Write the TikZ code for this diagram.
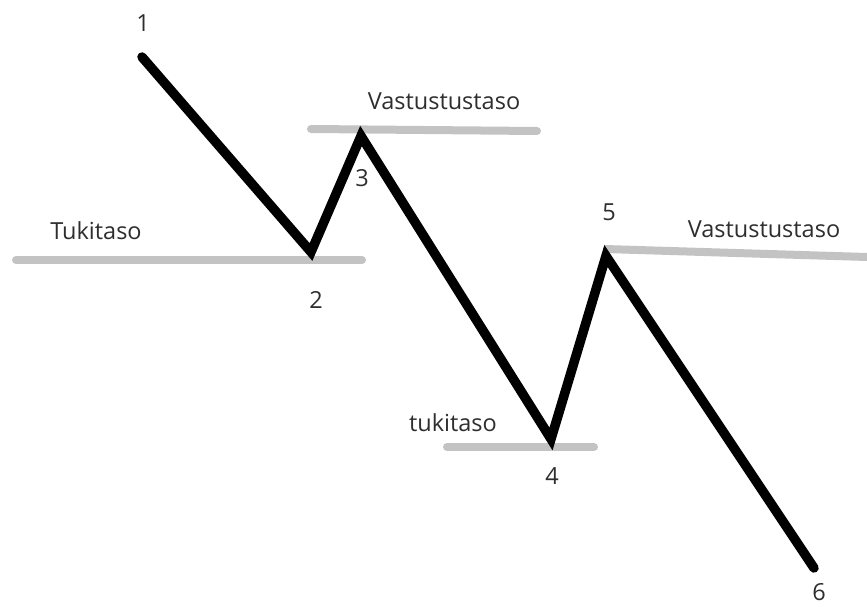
\documentclass[tikz,border=0pt]{standalone}
\usepackage{fontspec}
\setmainfont{Open Sans}
\begin{document}
\begin{tikzpicture}[x=1pt,y=-1pt,
  level/.style={line width=8pt,draw=levelgray,line cap=round},
  price/.style={line width=9.5pt,draw=black,line cap=round,line join=miter},
  lbl/.style={text=txtgray,font=\fontsize{23.5}{27}\selectfont,inner sep=0pt,anchor=center}]
\definecolor{levelgray}{HTML}{C3C3C3}
\definecolor{txtgray}{HTML}{2E2E2E}
\useasboundingbox (0,0) rectangle (867,607);
% support / resistance levels
\coordinate (l1a) at (16,260); \coordinate (l1b) at (362,260);
\coordinate (l2a) at (311,129); \coordinate (l2b) at (537,131);
\coordinate (l3a) at (447,447); \coordinate (l3b) at (594,447);
\coordinate (l4a) at (605,249); \coordinate (l4b) at (867,257);
\draw[level] (l1a) -- (l1b);
\draw[level] (l2a) -- (l2b);
\draw[level] (l3a) -- (l3b);
\draw[level,line cap=butt] (l4a) -- (l4b);
% price path
\coordinate (p1) at (142,57);
\coordinate (p2) at (311,252);
\coordinate (p3) at (361,136);
\coordinate (p4) at (551,439);
\coordinate (p5) at (606,256);
\coordinate (p6) at (814,568);
\draw[price] (p1) -- (p2) -- (p3) -- (p4) -- (p5) -- (p6);
% labels
\node[lbl] (n1) at (143,23) {1};
\node[lbl] (n2) at (316,300) {2};
\node[lbl] (n3) at (362,178) {3};
\node[lbl] (n4) at (552,476) {4};
\node[lbl] (n5) at (609,212) {5};
\node[lbl] (n6) at (819,592) {6};
\node[lbl] (t1) at (96,231) {Tukitaso};
\node[lbl] (r1) at (444,101) {Vastustustaso};
\node[lbl] (t2) at (453,423) {tukitaso};
\node[lbl] (r2) at (764,229) {Vastustustaso};
\end{tikzpicture}
\end{document}
